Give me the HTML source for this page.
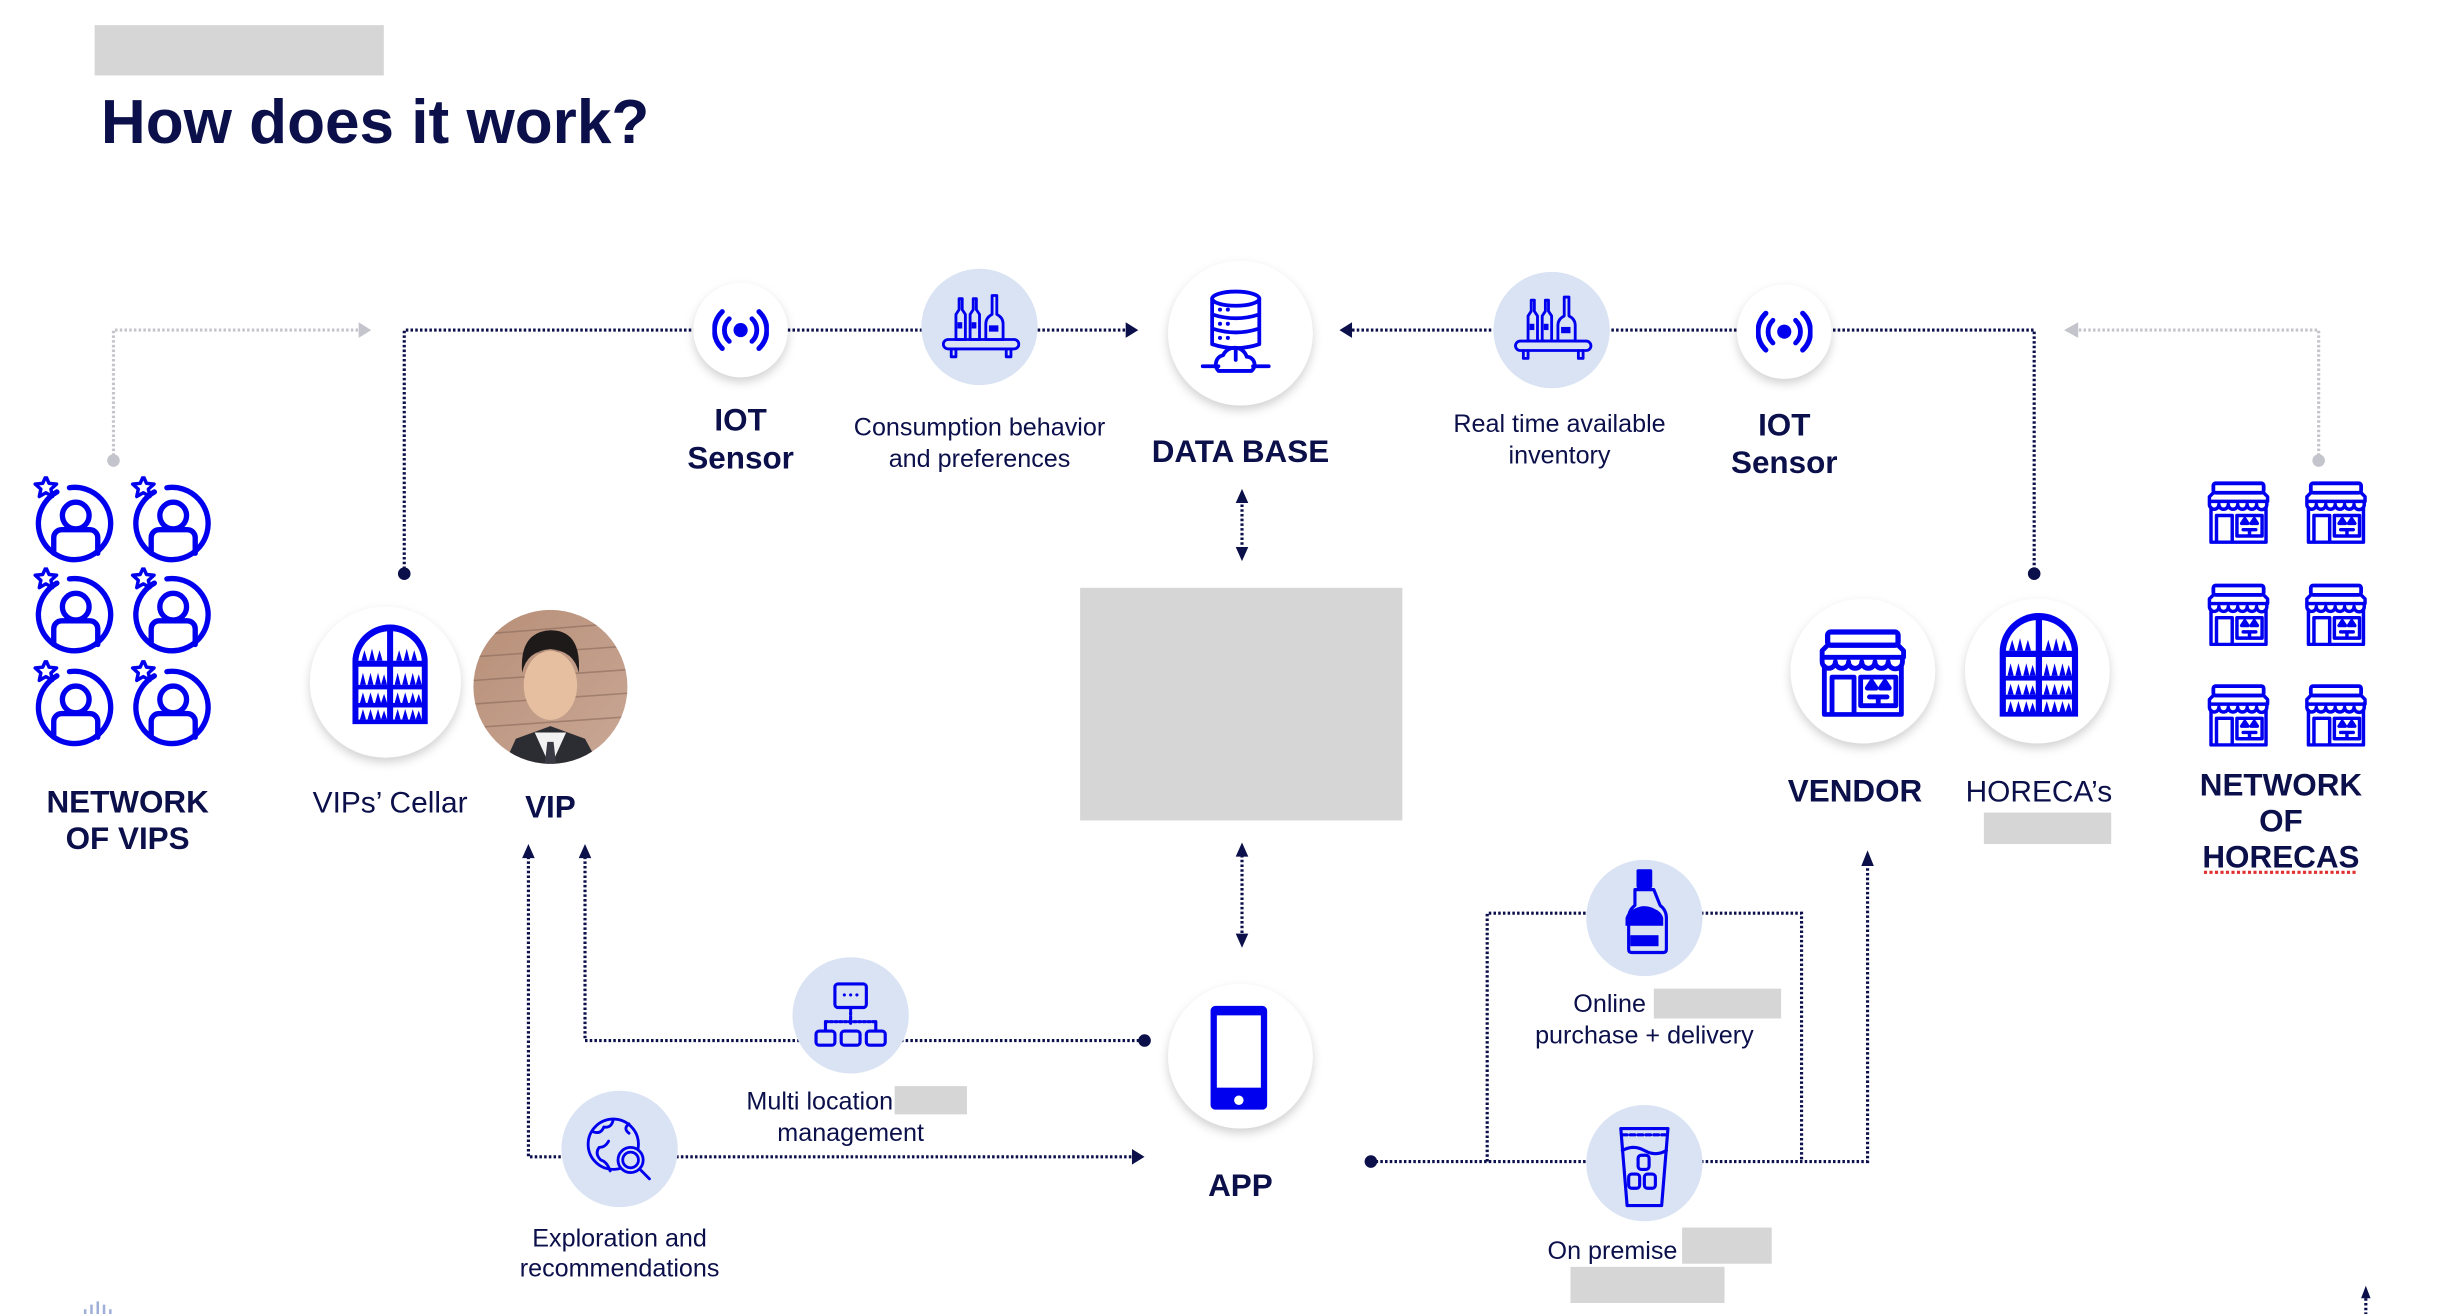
<!DOCTYPE html>
<html><head><meta charset="utf-8">
<style>
html,body{margin:0;padding:0;background:#fff;}
svg{display:block;}
text{font-family:"Liberation Sans",Arial,sans-serif;fill:#0b0f4a;}
.b{font-weight:bold;font-size:20px;}
.r{font-size:16px;}
.dl{stroke:#0b0f4a;stroke-width:2;stroke-dasharray:1.6 1.4;fill:none;}
.gl{stroke:#c4c4cc;stroke-width:2;stroke-dasharray:1.6 1.4;fill:none;}
.ic{stroke:#0000ee;fill:none;stroke-linecap:round;stroke-linejoin:round;}
</style></head><body>
<svg width="2462" height="1314" viewBox="0 0 1566 836" xmlns="http://www.w3.org/2000/svg">
<defs>
<filter id="sh" x="-30%" y="-30%" width="160%" height="170%">
<feDropShadow dx="0" dy="3" stdDeviation="3" flood-color="#000" flood-opacity="0.18"/>
</filter>
<symbol id="person" viewBox="-30 -30 60 60">
<path class="ic" d="M-12 -20 A23 23 0 1 0 -4 -22.7" stroke-width="3.4"/>
<circle class="ic" cx="0" cy="-5" r="8.5" stroke-width="3.4"/>
<path class="ic" d="M-14 19 V9 A5 5 0 0 1 -9 4 H9 A5 5 0 0 1 14 9 V19" stroke-width="3.4"/>
<path class="ic" d="M-19 -30 l2 4.5 4.8 .5 -3.6 3.2 1 4.7 -4.2 -2.4 -4.2 2.4 1 -4.7 -3.6 -3.2 4.8 -.5z" stroke-width="2.2"/>
</symbol>
<symbol id="store" viewBox="0 0 40 40">
<rect x="4" y="1.5" width="32" height="6" rx="1.5" class="ic" stroke-width="2.4"/>
<path class="ic" d="M1.5 10 L4 7.5 H36 L38.5 10 V13 H1.5z M1.5 13 v2 a3 3 0 0 0 6 0 a3 3 0 0 0 6 0 a3 3 0 0 0 6 0 a3 3 0 0 0 6 0 a3 3 0 0 0 6 0 a3 3 0 0 0 6.5 0 V13" stroke-width="2.2"/>
<path class="ic" d="M2.5 17 V39 H37.5 V17 M6 39 V22 H16 V39 M19 22 H35 V35 H19z M23 31 H31 M27 31 V35 M22 27 h4 l-2 -3z M28 27 h4 l-2 -3z" stroke-width="2.2"/>
</symbol>
<symbol id="cellar" viewBox="0 0 50 66">
<path d="M0 66 V25 A25 25 0 0 1 50 25 V66z" fill="#0000ee"/>
<g fill="#fff">
<path d="M4 24 A21 21 0 0 1 23 4.5 V24z M27 4.5 A21 21 0 0 1 46 24 H27z"/>
<rect x="4" y="28" width="19" height="12"/><rect x="27" y="28" width="19" height="12"/>
<rect x="4" y="43" width="19" height="9"/><rect x="27" y="43" width="19" height="9"/>
<rect x="4" y="55" width="19" height="8"/><rect x="27" y="55" width="19" height="8"/>
</g>
<g fill="#0000ee">
<path d="M6 24 l2 -7 2 7z M11 24 l2 -8 2 8z M16 24 l2 -7 2 7z M29 24 l2 -7 2 7z M34 24 l2 -8 2 8z M39 24 l2 -7 2 7z"/>
<path d="M5 40 l2 -8 2 8z M10 40 l2 -8 2 8z M15 40 l2 -8 2 8z M19 40 l2 -7 2 7z M28 40 l2 -8 2 8z M33 40 l2 -8 2 8z M38 40 l2 -8 2 8z M42 40 l2 -7 2 7z"/>
<path d="M5 52 l2 -7 2 7z M10 52 l2 -7 2 7z M15 52 l2 -7 2 7z M19 52 l2 -6 2 6z M28 52 l2 -7 2 7z M33 52 l2 -7 2 7z M38 52 l2 -7 2 7z M42 52 l2 -6 2 6z"/>
<path d="M5 63 l2 -7 2 7z M10 63 l2 -7 2 7z M15 63 l2 -7 2 7z M19 63 l2 -6 2 6z M28 63 l2 -7 2 7z M33 63 l2 -7 2 7z M38 63 l2 -7 2 7z M42 63 l2 -6 2 6z"/>
</g>
</symbol>
<symbol id="iot" viewBox="-20 -20 40 40">
<circle cx="0" cy="0" r="5" fill="#0000ee"/>
<path class="ic" d="M-8 -8 A11 11 0 0 0 -8 8 M8 -8 A11 11 0 0 1 8 8" stroke-width="3.4"/>
<path class="ic" d="M-13 -13 A18 18 0 0 0 -13 13 M13 -13 A18 18 0 0 1 13 13" stroke-width="3.6"/>
</symbol>
<symbol id="shelf" viewBox="0 0 50 46">
<g class="ic" stroke-width="1.8">
<rect x="1" y="30" width="48" height="6" rx="3"/>
<path d="M6 36 v5 h3 v-5 M41 36 v5 h3 v-5"/>
<path d="M9 30 V14 l2 -3 V4 h2 v7 l2 3 V30z M18 30 V14 l2 -3 V4 h2 v7 l2 3 V30z"/>
<path d="M28 30 V20 q0 -4 4 -6 V2 h3 v12 q4 2 4 6 V30z"/>
</g>
<rect x="10" y="19" width="3" height="4" fill="#0000ee"/><rect x="19" y="19" width="3" height="4" fill="#0000ee"/><rect x="30" y="21" width="6" height="4" fill="#0000ee"/>
</symbol>
</defs>

<!-- header -->
<rect x="60" y="16" width="184" height="32" fill="#d6d6d6"/>
<text x="64" y="91" style="font-size:39.5px;font-weight:bold;fill:#0b0f4a">How does it work?</text>

<!-- top connectors -->
<path class="gl" d="M72 293 V210 H228"/>
<path d="M228 205 L236 210 L228 215z" fill="#c4c4cc"/>
<circle cx="72" cy="293" r="4" fill="#c4c4cc"/>
<path class="dl" d="M257 365 V210 H716"/>
<circle cx="257" cy="365" r="4" fill="#0b0f4a"/>
<path d="M716 205 L724 210 L716 215z" fill="#0b0f4a"/>
<path class="dl" d="M860 210 H1294 V365"/>
<path d="M860 205 L852 210 L860 215z" fill="#0b0f4a"/>
<circle cx="1294" cy="365" r="4" fill="#0b0f4a"/>
<path class="gl" d="M1475 293 V210 H1322"/>
<path d="M1322 205 L1313 210 L1322 215z" fill="#c4c4cc"/>
<circle cx="1475" cy="293" r="4" fill="#c4c4cc"/>

<!-- db <-> box <-> app -->
<path class="dl" d="M790 318 V350 M790 541 V596"/>
<path d="M786 320 L790 311 L794 320z M786 348 L790 357 L794 348z M786 545 L790 536 L794 545z M786 594 L790 603 L794 594z" fill="#0b0f4a"/>
<rect x="687" y="374" width="205" height="148" fill="#d6d6d6"/>

<!-- top circles -->
<circle cx="471" cy="210" r="30" fill="#fff" filter="url(#sh)"/>
<use href="#iot" x="453" y="192" width="36" height="36"/>
<circle cx="623" cy="208" r="37" fill="#dae3f3"/>
<use href="#shelf" x="599" y="186" width="50" height="46"/>
<circle cx="789" cy="212" r="46" fill="#fff" filter="url(#sh)"/>
<g class="ic" stroke-width="2.4">
<ellipse cx="786" cy="190" rx="15" ry="4.5"/>
<path d="M771 190 V219 q15 5 30 0 V190 M771 200 q15 5 30 0 M771 209 q15 5 30 0"/>
<path d="M786 223 V229 M765 233 H775 M797 233 H807"/>
<path d="M775 236 a6 6 0 0 1 3 -10 a8 8 0 0 1 15 1 a5 5 0 0 1 3 9z"/>
</g>
<g fill="#0000ee"><circle cx="776" cy="197" r="1.3"/><circle cx="781" cy="197" r="1.3"/><circle cx="776" cy="206" r="1.3"/><circle cx="781" cy="206" r="1.3"/><circle cx="776" cy="215" r="1.3"/><circle cx="781" cy="215" r="1.3"/></g>
<circle cx="987" cy="210" r="37" fill="#dae3f3"/>
<use href="#shelf" x="963" y="187" width="50" height="46"/>
<circle cx="1135" cy="211" r="30" fill="#fff" filter="url(#sh)"/>
<use href="#iot" x="1117" y="193" width="36" height="36"/>

<text class="b" x="471" y="274" text-anchor="middle">IOT</text>
<text class="b" x="471" y="298" text-anchor="middle">Sensor</text>
<text class="r" x="623" y="277" text-anchor="middle">Consumption behavior</text>
<text class="r" x="623" y="297" text-anchor="middle">and preferences</text>
<text class="b" x="789" y="294" text-anchor="middle">DATA BASE</text>
<text class="r" x="992" y="275" text-anchor="middle">Real time available</text>
<text class="r" x="992" y="295" text-anchor="middle">inventory</text>
<text class="b" x="1135" y="277" text-anchor="middle">IOT</text>
<text class="b" x="1135" y="301" text-anchor="middle">Sensor</text>

<!-- network of VIPs -->
<use href="#person" x="18" y="303" width="60" height="60"/>
<use href="#person" x="80" y="303" width="60" height="60"/>
<use href="#person" x="18" y="361" width="60" height="60"/>
<use href="#person" x="80" y="361" width="60" height="60"/>
<use href="#person" x="18" y="420" width="60" height="60"/>
<use href="#person" x="80" y="420" width="60" height="60"/>
<text class="b" x="81" y="517" text-anchor="middle">NETWORK</text>
<text class="b" x="81" y="540" text-anchor="middle">OF VIPS</text>

<!-- cellar + VIP -->
<circle cx="245" cy="434" r="48" fill="#fff" filter="url(#sh)"/>
<use href="#cellar" x="224" y="396" width="48" height="66"/>
<defs><clipPath id="pc"><circle cx="350" cy="437" r="49"/></clipPath>
<linearGradient id="bg" x1="0" y1="0" x2="1" y2="1"><stop offset="0" stop-color="#b88f78"/><stop offset="1" stop-color="#c9a896"/></linearGradient></defs>
<g clip-path="url(#pc)">
<rect x="300" y="388" width="100" height="100" fill="url(#bg)"/>
<g stroke="#8a6a5a" stroke-width="1" opacity="0.6"><path d="M300 404 L400 396 M300 418 L400 411 M300 433 L400 426 M300 448 L400 441 M300 463 L400 456"/></g>
<ellipse cx="350" cy="436" rx="17" ry="22" fill="#e6bfa0"/>
<path d="M332 428 q-2 -26 18 -27 q20 0 18 27 q-3 -14 -18 -15 q-15 1 -18 15z" fill="#1e1a1a"/>
<path d="M318 492 L328 470 L350 462 L372 470 L384 492z" fill="#2c2c33"/>
<path d="M340 466 L350 488 L360 466z" fill="#f2f2f2"/>
<path d="M348 472 L352 472 L354 490 L346 490z" fill="#3a3a44"/>
</g>
<text x="248" y="517" text-anchor="middle" style="font-size:19px">VIPs’ Cellar</text>
<text class="b" x="350" y="520" text-anchor="middle">VIP</text>

<!-- bottom-left connectors -->
<path class="dl" d="M336 545 V736 H720"/>
<path d="M332 546 L336 537 L340 546z" fill="#0b0f4a"/>
<path d="M720 731 L728 736 L720 741z" fill="#0b0f4a"/>
<path class="dl" d="M372 545 V662 H728"/>
<path d="M368 546 L372 537 L376 546z" fill="#0b0f4a"/>
<circle cx="728" cy="662" r="4" fill="#0b0f4a"/>

<circle cx="541" cy="646" r="37" fill="#dae3f3"/>
<g class="ic" stroke-width="2">
<rect x="531" y="626" width="20" height="15" rx="2"/>
<path d="M541 641 V651 M525 650 H557" stroke-dasharray="1.5 1.5"/>
<path d="M525 650 V655 M557 650 V655"/>
<rect x="519" y="656" width="12" height="9" rx="2"/><rect x="535" y="656" width="12" height="9" rx="2"/><rect x="551" y="656" width="12" height="9" rx="2"/>
</g>
<g fill="#0000ee"><circle cx="537" cy="633" r="1"/><circle cx="541" cy="633" r="1"/><circle cx="545" cy="633" r="1"/></g>
<text class="r" x="568" y="706" text-anchor="end">Multi location</text>
<rect x="569" y="691" width="46" height="18" fill="#d6d6d6"/>
<text class="r" x="541" y="726" text-anchor="middle">management</text>

<circle cx="394" cy="731" r="37" fill="#dae3f3"/>
<g class="ic" stroke-width="1.8">
<circle cx="390" cy="728" r="16"/>
<path d="M377 720 q5 2 7 -3 q5 1 6 -5 M388 745 q-2 -6 -6 -7 q-4 -4 -1 -8 q4 0 6 -4 M400 715 q-4 3 0 6"/>
<circle cx="401" cy="738" r="8" fill="#dae3f3"/>
<circle cx="401" cy="738" r="5"/>
<path d="M407 744 L413 750"/>
</g>
<text class="r" x="394" y="793" text-anchor="middle">Exploration and</text>
<text class="r" x="394" y="812" text-anchor="middle">recommendations</text>

<!-- APP -->
<circle cx="789" cy="672" r="46" fill="#fff" filter="url(#sh)"/>
<rect x="770" y="640" width="36" height="66" rx="3" fill="#0000ee"/>
<rect x="774" y="646" width="28" height="46" fill="#fff"/>
<circle cx="788" cy="700" r="3" fill="#fff"/>
<text class="b" x="789" y="761" text-anchor="middle">APP</text>

<!-- bottom-right connectors -->
<path class="dl" d="M872 739 H1188 V550"/>
<circle cx="872" cy="739" r="4" fill="#0b0f4a"/>
<path d="M1184 551 L1188 541 L1192 551z" fill="#0b0f4a"/>
<path class="dl" d="M946 739 V581 H1146 V739"/>

<circle cx="1046" cy="584" r="37" fill="#dae3f3"/>
<g>
<rect x="1041" y="553" width="10" height="12" rx="1" fill="#0000ee"/>
<path class="ic" stroke-width="2" d="M1040 566 h12 l4 10 q4 3 4 8 v20 q0 2 -2 2 h-20 q-2 0 -2 -2 v-20 q0 -5 4 -8z"/>
<path d="M1040 578 q6 -3 12 0 q5 2 6 6 v5 h-24 v-5 q1 -4 6 -6z" fill="#0000ee"/>
<rect x="1037" y="595" width="18" height="7" fill="#0000ee"/>
</g>
<text class="r" x="1047" y="644" text-anchor="end">Online</text>
<rect x="1052" y="629" width="81" height="19" fill="#d6d6d6"/>
<text class="r" x="1046" y="664" text-anchor="middle">purchase + delivery</text>

<circle cx="1046" cy="740" r="37" fill="#dae3f3"/>
<g class="ic" stroke-width="2">
<path d="M1031 718 H1061 L1057 767 H1035z"/>
<path d="M1032 722 H1060" stroke-dasharray="3 2"/>
<path d="M1032 732 q7 -4 14 0 q7 4 14 0"/>
<rect x="1042" y="735" width="7" height="9" rx="2"/>
<rect x="1036" y="747" width="7" height="9" rx="2"/><rect x="1046" y="747" width="7" height="9" rx="2"/>
</g>
<text class="r" x="1067" y="801" text-anchor="end">On premise</text>
<rect x="1070" y="781" width="57" height="23" fill="#d6d6d6"/>
<rect x="999" y="806" width="98" height="23" fill="#d6d6d6"/>

<!-- VENDOR / HORECA -->
<circle cx="1185" cy="427" r="46" fill="#fff" filter="url(#sh)"/>
<use href="#store" x="1157" y="400" width="56" height="56"/>
<circle cx="1296" cy="427" r="46" fill="#fff" filter="url(#sh)"/>
<use href="#cellar" x="1272" y="390" width="50" height="66"/>
<text class="b" x="1180" y="510" text-anchor="middle">VENDOR</text>
<text x="1297" y="510" text-anchor="middle" style="font-size:19px">HORECA’s</text>
<rect x="1262" y="517" width="81" height="20" fill="#d6d6d6"/>

<!-- network of horecas -->
<use href="#store" x="1404" y="306" width="40" height="40"/>
<use href="#store" x="1466" y="306" width="40" height="40"/>
<use href="#store" x="1404" y="371" width="40" height="40"/>
<use href="#store" x="1466" y="371" width="40" height="40"/>
<use href="#store" x="1404" y="435" width="40" height="40"/>
<use href="#store" x="1466" y="435" width="40" height="40"/>
<text class="b" x="1451" y="506" text-anchor="middle">NETWORK</text>
<text class="b" x="1451" y="529" text-anchor="middle">OF</text>
<text class="b" x="1451" y="552" text-anchor="middle">HORECAS</text>
<path d="M1402 555 H1500" stroke="#e03030" stroke-width="2" stroke-dasharray="2 1.5"/>

<!-- misc bottom -->
<path class="dl" d="M1505 826 V836"/>
<path d="M1502 826 L1505 818 L1508 826z" fill="#0b0f4a"/>
<g stroke="#9fb0d8" stroke-width="1.6"><path d="M62 836 V828 M58 836 V830 M66 836 V830 M54 836 V833 M70 836 V833"/></g>
</svg>
</body></html>
